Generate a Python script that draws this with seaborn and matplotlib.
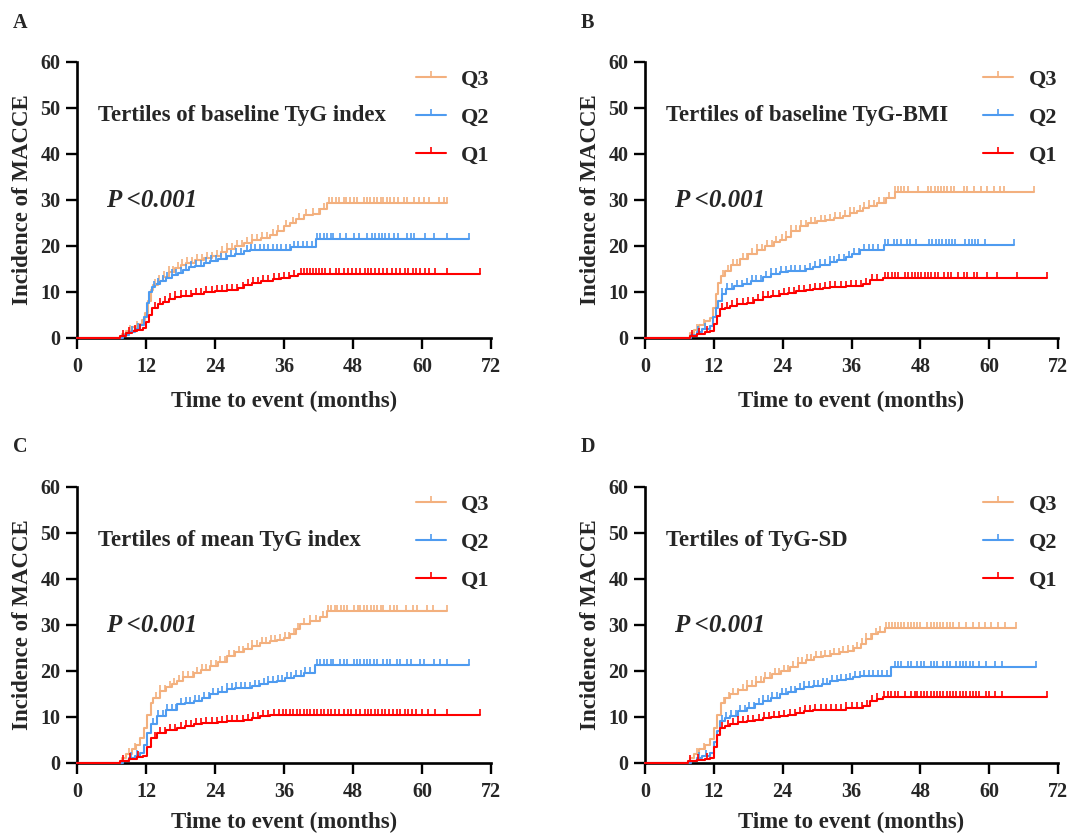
import numpy as np
import pandas as pd
import matplotlib
matplotlib.use("Agg")
import matplotlib.pyplot as plt
from matplotlib.path import Path
from matplotlib.lines import Line2D
import seaborn as sns

# ---------------- data: cumulative incidence (%) step curves ----------------
GROUPS = ["Q3", "Q2", "Q1"]
COLORS = {"Q3": "#F3B07E", "Q2": "#4E9BF0", "Q1": "#FF0000"}

# Panel A: tertiles of baseline TyG index
A_Q3_T = [0, 7.8, 8.5, 9.5, 10.5, 11.3, 11.8, 12.3, 12.8, 13.3, 14.0, 15.0, 16.0, 17.0, 18.0, 19.0, 20.5,
          22.0, 23.5, 25.0, 26.0, 27.5, 29.0, 30.5, 32.0, 33.5, 34.8, 36.0, 37.0, 38.0, 39.5, 41.0, 42.3, 43.5, 64.3]
A_Q3_Y = [0, 0.8, 1.5, 2.3, 3.0, 3.8, 5.5, 8.0, 10.5, 11.5, 12.3, 13.2, 14.3, 15.2, 15.8, 16.3, 16.9,
          17.3, 17.8, 18.6, 19.3, 19.9, 20.6, 21.2, 21.8, 22.4, 23.3, 24.2, 25.0, 25.8, 26.6, 27.0, 28.0, 29.3, 29.3]
A_Q3_C = [9.2, 10.4, 13.6, 14.3, 15.2, 16.0, 16.7, 17.5, 18.3, 19.1, 20.0, 20.9, 21.7, 22.6, 23.4, 24.3, 25.2,
          26.1, 27.0, 27.9, 28.7, 29.6, 30.5, 31.3, 32.2, 33.1, 34.0, 35.0, 36.4, 37.5, 38.6, 39.8, 41.0, 42.0,
          42.9, 43.8, 44.4, 45.0, 45.5, 46.4, 46.8, 47.5, 48.1, 48.7, 49.9, 50.4, 51.0, 51.6, 52.2, 52.8, 53.3,
          53.9, 54.5, 55.1, 55.9, 56.8, 57.4, 58.6, 59.4, 60.3, 61.2, 62.9, 63.8, 64.3]

A_Q2_T = [0, 8.0, 9.0, 10.0, 11.0, 11.6, 12.1, 12.6, 13.0, 13.6, 14.5, 15.5, 16.5, 17.5, 18.5, 19.5, 20.5,
          22.0, 23.2, 24.5, 26.0, 27.5, 29.0, 30.0, 37.3, 41.5, 68.1]
A_Q2_Y = [0, 0.6, 1.2, 2.0, 2.8, 4.5, 7.5, 10.0, 11.0, 11.8, 12.4, 13.0, 13.7, 14.2, 14.8, 15.3, 15.6,
          16.2, 16.7, 17.2, 17.8, 18.3, 18.9, 19.1, 19.8, 21.4, 21.4]
A_Q2_C = [9.5, 10.6, 13.4, 14.1, 14.9, 15.7, 16.5, 17.3, 18.1, 18.9, 19.8, 20.7, 21.5, 22.4, 23.3, 24.1, 25.0,
          25.9, 26.8, 27.7, 28.6, 29.5, 30.3, 31.0, 31.8, 32.5, 33.3, 34.0, 34.8, 35.5, 36.3, 37.0, 37.8, 38.5,
          39.3, 40.0, 40.8, 41.7, 42.3, 42.9, 43.5, 44.1, 44.6, 45.8, 46.7, 48.1, 49.0, 50.4, 51.3, 51.9, 52.5,
          53.0, 53.6, 54.2, 55.1, 55.9, 57.4, 58.0, 58.6, 60.6, 62.0, 64.3, 68.1]

A_Q1_T = [0, 7.5, 8.5, 9.5, 10.5, 11.5, 12.0, 12.5, 13.0, 14.0, 15.0, 16.0, 17.0, 18.0, 20.0, 22.0, 24.0,
          26.0, 28.0, 29.0, 30.5, 32.0, 34.0, 35.5, 37.0, 38.5, 70.0]
A_Q1_Y = [0, 0.5, 1.0, 1.5, 1.8, 2.2, 3.5, 5.0, 6.5, 7.3, 7.9, 8.4, 8.8, 9.1, 9.5, 9.9, 10.2,
          10.5, 10.9, 11.4, 12.0, 12.4, 12.8, 13.1, 13.5, 13.9, 13.9]
A_Q1_C = [8.0, 9.0, 10.0, 11.0, 13.5, 14.4, 15.3, 16.2, 17.1, 18.0, 18.9, 19.8, 20.7, 21.6, 22.5, 23.4, 24.3,
          25.2, 26.1, 27.0, 27.9, 28.8, 29.7, 30.6, 31.5, 32.4, 33.3, 34.2, 35.1, 36.0, 36.9, 37.8, 39.0, 39.5,
          40.0, 40.5, 41.0, 41.5, 42.0, 42.6, 43.2, 44.0, 45.0, 45.6, 46.5, 47.1, 47.8, 48.6, 49.3, 50.0, 50.6,
          51.2, 51.9, 52.6, 53.2, 53.9, 54.7, 55.5, 56.2, 57.0, 57.6, 58.4, 59.0, 59.7, 60.5, 61.3, 62.2, 64.3, 70.0]

# Panel B: tertiles of baseline TyG-BMI
B_Q3_T = [0, 7.8, 8.5, 9.5, 10.5, 11.3, 11.8, 12.3, 12.8, 13.3, 13.9, 15.0, 16.5, 18.0, 19.5, 21.0, 22.5,
          23.5, 24.5, 25.5, 27.0, 28.5, 30.0, 31.5, 33.0, 34.5, 35.7, 37.0, 38.0, 39.0, 40.4, 42.1, 43.6, 67.9]
B_Q3_Y = [0, 1.0, 1.8, 2.8, 3.6, 4.4, 6.5, 9.5, 12.0, 13.5, 14.6, 15.8, 17.2, 18.3, 19.2, 20.0, 20.8,
          21.2, 22.0, 23.2, 24.2, 24.9, 25.3, 25.6, 26.0, 26.5, 27.1, 27.6, 28.2, 28.7, 29.3, 30.4, 31.6, 31.6]
B_Q3_C = [9.0, 10.2, 13.6, 14.4, 15.3, 16.1, 17.0, 17.8, 18.7, 19.5, 20.4, 21.2, 22.1, 22.9, 23.8, 24.6, 25.5,
          26.3, 27.2, 28.0, 28.9, 29.7, 30.6, 31.4, 32.3, 33.1, 34.0, 34.8, 35.7, 36.5, 37.4, 38.2, 39.1, 39.9,
          40.8, 41.6, 42.5, 43.6, 44.1, 44.7, 45.2, 45.8, 47.6, 49.4, 49.9, 50.5, 51.0, 51.6, 52.2, 52.7, 53.3,
          53.9, 55.6, 56.2, 57.3, 58.5, 59.6, 60.8, 61.9, 62.5, 67.9]

B_Q2_T = [0, 8.0, 9.0, 10.0, 11.3, 11.9, 12.4, 12.8, 13.4, 14.2, 15.5, 17.1, 18.5, 20.6, 22.0, 23.5, 25.0,
          26.4, 28.0, 29.3, 30.5, 32.2, 33.5, 35.1, 36.0, 37.4, 41.6, 64.3]
B_Q2_Y = [0, 0.6, 1.2, 1.9, 2.6, 4.5, 6.5, 8.0, 9.5, 10.6, 11.3, 11.7, 12.3, 13.2, 13.8, 14.3, 14.5,
          14.6, 15.0, 15.4, 15.9, 16.5, 17.0, 17.6, 18.2, 19.0, 20.1, 20.1]
B_Q2_C = [9.3, 10.5, 13.5, 14.3, 15.2, 16.0, 16.9, 17.7, 18.6, 19.4, 20.3, 21.1, 22.0, 22.8, 23.7, 24.5, 25.4,
          26.2, 27.1, 27.9, 28.8, 29.6, 30.5, 31.3, 32.2, 33.0, 33.9, 34.7, 35.6, 36.4, 37.3, 38.1, 39.0, 39.8,
          40.7, 41.8, 42.4, 43.4, 44.0, 44.6, 45.6, 46.2, 47.3, 49.5, 50.1, 50.7, 51.2, 51.8, 52.4, 53.0, 53.5,
          54.1, 55.8, 56.4, 57.0, 57.6, 58.1, 59.3, 64.3]

B_Q1_T = [0, 7.8, 9.0, 10.5, 11.3, 12.0, 12.5, 13.0, 14.0, 14.8, 16.0, 17.7, 19.0, 20.6, 22.0, 23.5, 25.0,
          26.4, 28.0, 29.3, 31.0, 32.2, 35.1, 38.0, 39.2, 41.5, 70.0]
B_Q1_Y = [0, 0.4, 0.8, 1.2, 1.5, 3.0, 4.8, 6.2, 6.6, 6.9, 7.3, 7.7, 8.2, 8.8, 9.1, 9.5, 9.8,
          10.1, 10.4, 10.6, 10.9, 11.1, 11.3, 11.7, 12.5, 13.0, 13.0]
B_Q1_C = [8.2, 9.5, 10.8, 13.4, 14.3, 15.2, 16.1, 17.0, 17.9, 18.8, 19.7, 20.6, 21.5, 22.4, 23.3, 24.2, 25.1,
          26.0, 26.9, 27.8, 28.7, 29.6, 30.5, 31.4, 32.3, 33.2, 34.1, 35.0, 35.9, 36.8, 37.7, 38.6, 39.5, 40.4,
          41.8, 42.4, 43.0, 43.6, 44.1, 45.3, 45.9, 46.5, 47.0, 47.6, 48.2, 48.8, 49.3, 49.9, 50.5, 51.0, 52.2,
          52.8, 53.3, 54.5, 55.6, 56.2, 57.3, 57.9, 59.6, 61.4, 64.8, 70.0]

# Panel C: tertiles of mean TyG index
C_Q3_T = [0, 7.8, 8.5, 9.5, 10.3, 11.0, 11.6, 12.2, 12.8, 13.3, 14.5, 15.5, 16.5, 17.4, 18.5, 20.3, 21.5,
          23.2, 24.5, 26.1, 27.5, 29.0, 30.5, 31.9, 33.5, 34.8, 36.0, 37.1, 38.0, 38.8, 40.5, 42.3, 43.5, 64.3]
C_Q3_Y = [0, 1.0, 2.0, 3.0, 4.0, 5.4, 7.5, 10.5, 13.0, 14.2, 15.6, 16.5, 17.2, 17.8, 18.6, 19.6, 20.2,
          21.1, 22.0, 23.2, 24.0, 24.7, 25.4, 26.1, 26.4, 26.7, 27.2, 28.0, 29.0, 30.1, 30.8, 31.6, 33.0, 33.0]
C_Q3_C = [9.0, 10.0, 13.7, 14.5, 15.3, 16.1, 16.9, 17.7, 18.5, 19.3, 20.1, 20.9, 21.7, 22.5, 23.3, 24.1, 24.9,
          25.7, 26.5, 27.3, 28.1, 28.9, 29.7, 30.5, 31.3, 32.1, 32.9, 33.7, 34.5, 35.3, 36.1, 36.9, 37.7, 38.5,
          39.5, 40.6, 41.6, 42.8, 43.7, 44.2, 44.8, 45.3, 45.9, 46.5, 47.0, 48.2, 48.8, 49.3, 49.9, 50.5, 51.1,
          51.6, 52.2, 52.8, 53.3, 54.5, 55.1, 55.6, 57.3, 58.5, 59.1, 60.8, 61.9, 64.3]

C_Q2_T = [0, 8.0, 9.0, 10.0, 11.0, 11.6, 12.2, 12.8, 13.9, 15.5, 17.4, 18.8, 20.3, 21.7, 23.2, 24.6, 26.1,
          27.5, 29.0, 30.5, 31.9, 33.3, 34.8, 36.2, 37.7, 39.4, 41.4, 68.1]
C_Q2_Y = [0, 0.5, 1.0, 1.6, 2.2, 4.0, 6.5, 8.5, 10.2, 11.6, 12.7, 13.1, 13.4, 14.1, 14.9, 15.5, 16.0,
          16.2, 16.3, 16.7, 17.1, 17.5, 17.9, 18.4, 18.9, 19.6, 21.3, 21.3]
C_Q2_C = [9.4, 10.5, 13.3, 14.1, 14.9, 15.7, 16.5, 17.3, 18.1, 18.9, 19.7, 20.5, 21.3, 22.1, 22.9, 23.7, 24.5,
          25.3, 26.1, 26.9, 27.7, 28.5, 29.3, 30.1, 30.9, 31.7, 32.5, 33.3, 34.1, 34.9, 35.7, 36.5, 37.3, 38.1,
          38.9, 39.7, 40.5, 41.7, 42.3, 42.9, 43.5, 44.1, 44.6, 45.8, 46.4, 47.0, 48.1, 48.7, 49.3, 49.9, 50.4,
          51.0, 51.6, 52.2, 53.3, 53.9, 54.5, 55.6, 56.2, 57.4, 58.0, 59.7, 60.3, 62.0, 63.2, 64.3, 68.1]

C_Q1_T = [0, 7.5, 9.0, 10.5, 11.5, 12.2, 12.8, 13.9, 15.5, 17.4, 18.8, 20.3, 21.7, 23.2, 24.6, 26.1, 27.5,
          29.0, 30.5, 31.9, 33.5, 34.8, 70.1]
C_Q1_Y = [0, 0.4, 0.8, 1.2, 1.6, 3.5, 5.5, 6.5, 7.1, 7.6, 8.0, 8.4, 8.6, 8.7, 8.9, 9.1, 9.2,
          9.4, 9.8, 10.2, 10.4, 10.4, 10.4]
C_Q1_C = [8.0, 9.2, 10.6, 13.5, 14.4, 15.3, 16.2, 17.1, 18.0, 18.9, 19.8, 20.7, 21.6, 22.5, 23.4, 24.3, 25.2,
          26.1, 27.0, 27.9, 28.8, 29.7, 30.6, 31.5, 32.4, 33.3, 34.2, 35.2, 35.8, 36.4, 37.0, 37.6, 38.2, 38.8,
          39.4, 40.0, 40.6, 41.2, 41.8, 42.4, 43.0, 43.6, 44.2, 44.8, 45.6, 46.5, 47.1, 47.7, 48.5, 49.3, 50.0,
          50.6, 51.2, 51.8, 52.4, 53.0, 53.6, 54.2, 55.0, 55.6, 56.2, 57.0, 57.6, 58.2, 59.0, 60.0, 61.0, 62.2,
          64.3, 70.1]

# Panel D: tertiles of TyG-SD
D_Q3_T = [0, 7.8, 8.5, 9.5, 10.5, 11.4, 12.0, 12.6, 13.2, 14.0, 14.9, 16.3, 17.8, 19.3, 20.8, 22.2, 23.7,
          25.2, 26.6, 28.0, 29.5, 31.0, 32.5, 34.0, 35.4, 36.5, 37.7, 38.6, 39.5, 40.7, 41.8, 64.7]
D_Q3_Y = [0, 1.0, 2.0, 3.0, 4.0, 5.1, 7.5, 10.5, 13.1, 14.1, 14.9, 15.8, 16.7, 17.6, 18.5, 19.3, 20.0,
          20.9, 21.8, 22.4, 22.9, 23.3, 23.6, 24.0, 24.4, 25.0, 25.8, 27.0, 27.9, 28.5, 29.3, 29.3]
D_Q3_C = [9.1, 10.3, 13.8, 14.6, 15.4, 16.2, 17.0, 17.8, 18.6, 19.4, 20.2, 21.0, 21.8, 22.6, 23.4, 24.2, 25.0,
          25.8, 26.6, 27.4, 28.2, 29.0, 29.8, 30.6, 31.4, 32.2, 33.0, 33.8, 34.6, 35.4, 36.2, 37.0, 37.8, 38.6,
          39.4, 40.2, 41.0, 42.0, 42.5, 43.0, 43.6, 44.1, 44.7, 45.2, 45.8, 46.4, 46.9, 47.5, 48.0, 49.2, 49.8,
          50.3, 50.9, 51.4, 52.0, 52.6, 53.1, 53.7, 54.8, 55.9, 57.1, 58.2, 59.3, 60.4, 61.6, 62.7, 64.7]

D_Q2_T = [0, 8.0, 9.0, 10.0, 11.4, 12.0, 12.6, 13.1, 14.0, 14.8, 16.2, 17.7, 19.2, 20.6, 22.0, 23.5, 25.0,
          26.4, 27.8, 29.3, 30.8, 32.2, 33.6, 35.1, 36.3, 37.5, 42.8, 68.1]
D_Q2_Y = [0, 0.5, 1.0, 1.5, 2.2, 4.5, 7.0, 9.1, 9.8, 10.2, 11.2, 12.0, 12.8, 13.5, 14.2, 14.9, 15.5,
          16.0, 16.4, 16.7, 17.2, 17.7, 18.0, 18.2, 18.6, 18.9, 20.9, 20.9]
D_Q2_C = [9.4, 10.6, 13.4, 14.2, 15.0, 15.8, 16.6, 17.4, 18.2, 19.0, 19.8, 20.6, 21.4, 22.2, 23.0, 23.8, 24.6,
          25.4, 26.2, 27.0, 27.8, 28.6, 29.4, 30.2, 31.0, 31.8, 32.6, 33.4, 34.2, 35.0, 35.8, 36.6, 37.4, 38.2,
          39.0, 39.8, 40.6, 41.4, 42.2, 43.6, 44.1, 44.7, 45.8, 46.4, 47.5, 48.1, 48.6, 49.8, 50.3, 50.9, 52.0,
          52.6, 53.2, 54.3, 54.9, 55.4, 56.0, 56.6, 57.2, 58.3, 59.4, 61.1, 62.2, 68.1]

D_Q1_T = [0, 7.5, 9.0, 10.5, 11.4, 12.0, 12.6, 13.1, 14.0, 14.8, 16.2, 17.7, 19.2, 20.6, 22.0, 23.5, 25.0,
          26.4, 27.8, 29.3, 30.8, 32.2, 35.1, 38.0, 39.2, 40.5, 41.5, 70.0]
D_Q1_Y = [0, 0.4, 0.7, 0.9, 1.1, 3.5, 6.0, 7.6, 8.0, 8.4, 8.8, 9.1, 9.4, 9.8, 10.0, 10.2, 10.5,
          10.9, 11.2, 11.4, 11.5, 11.6, 12.0, 12.4, 13.5, 13.9, 14.3, 14.3]
D_Q1_C = [7.8, 9.3, 10.8, 13.5, 14.4, 15.3, 16.2, 17.1, 18.0, 18.9, 19.8, 20.7, 21.6, 22.5, 23.4, 24.3, 25.2,
          26.1, 27.0, 27.9, 28.8, 29.7, 30.6, 31.5, 32.4, 33.3, 34.2, 35.1, 36.0, 36.9, 37.8, 38.7, 39.6, 40.5,
          41.7, 42.3, 42.9, 43.6, 44.1, 45.3, 46.4, 47.0, 47.5, 48.1, 48.7, 49.2, 49.8, 50.3, 50.9, 51.5, 52.0,
          52.6, 53.2, 53.7, 54.3, 54.9, 55.4, 56.0, 56.6, 57.2, 57.7, 58.3, 59.4, 60.0, 61.1, 62.2, 70.0]

PANELS = [
    ("A", "Tertiles of baseline TyG index",
     {"Q3": (A_Q3_T, A_Q3_Y, A_Q3_C), "Q2": (A_Q2_T, A_Q2_Y, A_Q2_C), "Q1": (A_Q1_T, A_Q1_Y, A_Q1_C)}),
    ("B", "Tertiles of baseline TyG-BMI",
     {"Q3": (B_Q3_T, B_Q3_Y, B_Q3_C), "Q2": (B_Q2_T, B_Q2_Y, B_Q2_C), "Q1": (B_Q1_T, B_Q1_Y, B_Q1_C)}),
    ("C", "Tertiles of mean TyG index",
     {"Q3": (C_Q3_T, C_Q3_Y, C_Q3_C), "Q2": (C_Q2_T, C_Q2_Y, C_Q2_C), "Q1": (C_Q1_T, C_Q1_Y, C_Q1_C)}),
    ("D", "Tertiles of TyG-SD",
     {"Q3": (D_Q3_T, D_Q3_Y, D_Q3_C), "Q2": (D_Q2_T, D_Q2_Y, D_Q2_C), "Q1": (D_Q1_T, D_Q1_Y, D_Q1_C)}),
]

X_TICKS = [0, 12, 24, 36, 48, 60, 72]
Y_TICKS = [0, 10, 20, 30, 40, 50, 60]
P_TEXT = "P <0.001"

# ---------------- style ----------------
sns.set_style("ticks")
plt.rcParams["font.family"] = ["Liberation Serif", "DejaVu Serif"]
plt.rcParams["font.weight"] = "bold"
plt.rcParams["axes.labelweight"] = "bold"

# upward censor tick (base sits on the curve)
CENSOR = Path([(0, 0), (0, 1)])

W, H = 1069, 834
fig = plt.figure(figsize=(W / 100, H / 100), dpi=100)
fig.patch.set_facecolor("white")

# axes boxes in pixels: (left, right, top, bottom)
BOXES = [(77, 491, 61.5, 338), (645, 1058, 61.5, 338),
         (77, 491, 486.5, 763), (645, 1058, 486.5, 763)]

for i, ((letter, title, curves), (l, r, t, b)) in enumerate(zip(PANELS, BOXES)):
    ax = fig.add_axes([l / W, 1 - b / H, (r - l) / W, (b - t) / H])

    rows = []
    for g in GROUPS:
        tt, yy, _ = curves[g]
        rows.append(pd.DataFrame({"time": tt, "incidence": yy, "group": g}))
    df = pd.concat(rows, ignore_index=True)

    sns.lineplot(data=df, x="time", y="incidence", hue="group", hue_order=GROUPS,
                 palette=COLORS, estimator=None, sort=False, drawstyle="steps-post",
                 linewidth=1.5, legend=False, ax=ax, clip_on=False, zorder=3)

    # censor marks placed on the step curve
    for g in GROUPS:
        tt, yy, cc = curves[g]
        tt = np.asarray(tt); yy = np.asarray(yy); cc = np.asarray(cc)
        idx = np.clip(np.searchsorted(tt, cc, side="right") - 1, 0, len(yy) - 1)
        ax.plot(cc, yy[idx], linestyle="none", marker=CENSOR, markersize=8,
                markeredgewidth=1.2, color=COLORS[g], zorder=3, clip_on=False)

    ax.set_xlim(0, 72)
    ax.set_ylim(0, 60)
    ax.set_xticks(X_TICKS)
    ax.set_yticks(Y_TICKS)
    sns.despine(ax=ax)
    for s in ("left", "bottom"):
        ax.spines[s].set_linewidth(1.9)
        ax.spines[s].set_color("black")
    ax.tick_params(axis="both", direction="out", length=8, width=1.7, color="black",
                   labelsize=14.5, pad=4)
    ax.tick_params(axis="x", pad=6)
    for lab in ax.get_xticklabels() + ax.get_yticklabels():
        lab.set_fontweight("bold")

    ax.set_xlabel("Time to event (months)", fontsize=16.5, fontweight="bold")
    ax.set_ylabel("Incidence of MACCE", fontsize=16.5, fontweight="bold")
    ax.xaxis.set_label_coords(0.5, -0.19 if i < 2 else -0.178)
    ax.yaxis.set_label_coords(-0.106, 0.5)

    ax.text(0.051, 0.805, title, transform=ax.transAxes, fontsize=16.4,
            fontweight="bold", ha="left", va="center")
    ax.text(0.07, 0.497, P_TEXT, transform=ax.transAxes, fontsize=18,
            fontweight="bold", fontstyle="italic", ha="left", va="center")

    handles = [Line2D([], [], color=COLORS[g], lw=1.5, marker=CENSOR, markersize=8,
                      markeredgewidth=1.2) for g in GROUPS]
    leg = ax.legend(handles, GROUPS, loc="upper left", bbox_to_anchor=(0.818, 0.972),
                    frameon=False, fontsize=16, handlelength=1.35, handletextpad=0.7,
                    labelspacing=0.78, borderaxespad=0, borderpad=0, numpoints=1)
    for txt in leg.get_texts():
        txt.set_fontweight("bold")

    fig.text((l - 64) / W, 1 - (t - 39) / H, letter, fontsize=14.5, fontweight="bold",
             ha="left", va="center")

fig.savefig("out.png", dpi=100, facecolor="white")
